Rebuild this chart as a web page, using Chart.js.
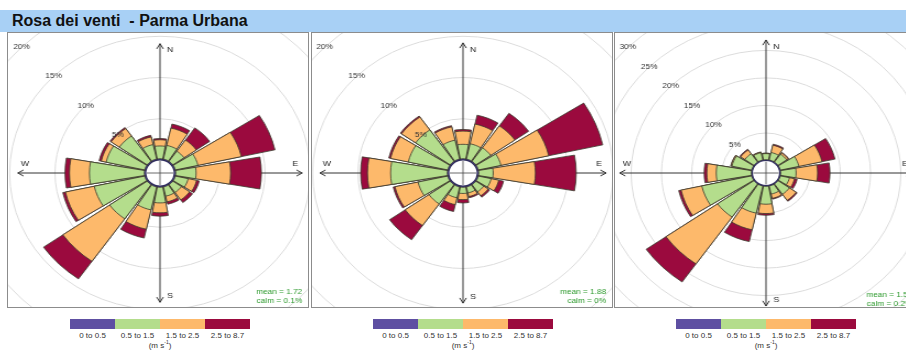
<!DOCTYPE html>
<html lang="it">
<head>
    <meta charset="UTF-8">
    <title>Rosa dei venti - Parma Urbana</title>
    <script src="https://cdn.jsdelivr.net/npm/chart.js"></script>
    <style>
        body { margin: 0; background: #fff; font-family: "Liberation Sans", Arial, sans-serif; }
        .page { position: relative; width: 906px; height: 356px; overflow: hidden; }
        .titlebar { position: absolute; left: 0; top: 10px; width: 906px; height: 22px; background: #a8d0f5; }
        .titlebar span { position: absolute; left: 12px; top: 2px; font-weight: bold; font-size: 16px; color: #111; white-space: pre; }
        .panel { position: absolute; top: 32px; width: 300px; height: 274px; border: 1px solid #8c8c8c; overflow: hidden; background: #fff; }
        .rose { position: absolute; width: 440px; height: 440px; transform: scaleX(1.1); transform-origin: 50% 50%; }
        .legend { position: absolute; top: 319px; width: 180px; }
        .keys { display: flex; height: 10px; }
        .keys div { flex: 1; }
        .klabels { display: flex; font-size: 8px; color: #333; margin-top: 2px; }
        .klabels div { flex: 1; text-align: center; white-space: nowrap; }
        .unit { text-align: center; font-size: 8px; color: #333; margin-top: 1px; }
        .unit sup { font-size: 5px; line-height: 0; }
    </style>
</head>
<body>
<div class="page">
    <!-- Header -->
    <div class="titlebar"><span>Rosa dei venti  - Parma Urbana</span></div>

    <!-- Three wind roses -->
    <div class="panel" style="left:7px"><div class="rose" style="left:-68px; top:-80px"><canvas id="rose1" width="440" height="440"></canvas></div></div>
    <div class="panel" style="left:311px"><div class="rose" style="left:-69px; top:-80px"><canvas id="rose2" width="440" height="440"></canvas></div></div>
    <div class="panel" style="left:614px"><div class="rose" style="left:-69px; top:-80px"><canvas id="rose3" width="440" height="440"></canvas></div></div>

    <!-- Speed keys -->
    <div class="legend" id="legend1" style="left:70px"></div>
    <div class="legend" id="legend2" style="left:373px"></div>
    <div class="legend" id="legend3" style="left:676px"></div>
</div>

<script>
    // directions, clockwise from north
    const directions = ['N', 'NNE', 'NE', 'ENE', 'E', 'ESE', 'SE', 'SSE', 'S', 'SSW', 'SW', 'WSW', 'W', 'WNW', 'NW', 'NNW'];
    const binLabels = ['0 to 0.5', '0.5 to 1.5', '1.5 to 2.5', '2.5 to 8.7'];
    const binColors = ['#5e4fa2', '#b4dd8c', '#fdb96b', '#9b0a3e'];

    // frequency (%) per speed bin, rose 1
    const r1Speed1 = [0.15, 0.15, 0.15, 0.15, 0.15, 0.15, 0.15, 0.15, 0.15, 0.15, 0.15, 0.15, 0.15, 0.15, 0.15, 0.15];
    const r1Speed2 = [1.55, 1.7, 1.5, 2.55, 2.25, 1.45, 1.15, 1.15, 1.9, 2.85, 5.05, 5.7, 6.05, 4.35, 3.75, 1.8];
    const r1Speed3 = [0.75, 2.15, 1.65, 4.9, 3.8, 0.95, 1.1, 0.7, 1.2, 2.4, 6.3, 3.25, 2.2, 0.55, 1.1, 0.95];
    const r1Speed4 = [0.15, 0.5, 1.8, 3.8, 3.4, 0.3, 0.4, 0.3, 0.4, 1.1, 2.6, 0.3, 0.5, 0.25, 0.15, 0.2];

    // rose 2
    const r2Speed1 = [0.15, 0.15, 0.15, 0.15, 0.15, 0.15, 0.15, 0.15, 0.15, 0.15, 0.15, 0.15, 0.15, 0.15, 0.15, 0.15];
    const r2Speed2 = [1.75, 1.9, 2.0, 2.55, 1.6, 1.45, 1.05, 0.75, 0.75, 1.35, 2.85, 3.35, 6.25, 4.45, 4.65, 2.35];
    const r2Speed3 = [1.6, 2.45, 3.25, 5.4, 4.65, 0.85, 0.6, 0.45, 0.75, 0.85, 3.2, 2.6, 2.55, 2.0, 1.9, 1.65];
    const r2Speed4 = [0.2, 1.1, 1.85, 6.1, 4.5, 0.55, 0.2, 0.15, 0.4, 0.85, 2.1, 0.2, 0.75, 0.2, 0.15, 0.15];

    // rose 3
    const r3Speed1 = [0.15, 0.15, 0.15, 0.15, 0.15, 0.15, 0.15, 0.15, 0.15, 0.15, 0.15, 0.15, 0.15, 0.15, 0.15, 0.15];
    const r3Speed2 = [1.1, 1.4, 1.75, 3.15, 2.55, 1.55, 2.3, 1.5, 3.25, 5.05, 7.35, 8.45, 5.8, 3.35, 1.85, 1.35];
    const r3Speed3 = [0.05, 1.35, 0.3, 3.9, 3.55, 0.85, 1.35, 0.8, 1.7, 3.1, 10.4, 3.5, 1.55, 0.15, 0.85, 0.1];
    const r3Speed4 = [0.05, 0.2, 0.1, 2.2, 2.05, 0.45, 0.2, 0.15, 0.3, 2.2, 4.0, 0.4, 0.45, 0.05, 0.15, 0.05];

    // ring ticks (%) and radial axis range (negative min = the hole)
    const ringsSmall = [5, 10, 15, 20];
    const ringsLarge = [5, 10, 15, 20, 25, 30];
    const rangeSmall = [-1.58, 25.1];
    const rangeLarge = [-2.27, 37.7];

    const SECTOR_DEG = 20;
    const GAP_DEG = 2.5;
    const FONT = '"Liberation Sans", Arial, sans-serif';

    function drawAxis(ctx, x1, y1, x2, y2) {
        const head = 6;
        ctx.beginPath();
        ctx.moveTo(x1, y1);
        ctx.lineTo(x2, y2);
        [[x2, y2, x1, y1], [x1, y1, x2, y2]].forEach(([tx, ty, fx, fy]) => {
            const a = Math.atan2(ty - fy, tx - fx);
            ctx.moveTo(tx - head * Math.cos(a - Math.PI / 6), ty - head * Math.sin(a - Math.PI / 6));
            ctx.lineTo(tx, ty);
            ctx.lineTo(tx - head * Math.cos(a + Math.PI / 6), ty - head * Math.sin(a + Math.PI / 6));
        });
        ctx.stroke();
    }

    // axes, compass letters, hole, ring labels and the mean / calm note
    const roseDeco = {
        id: 'roseDeco',
        beforeDatasetsDraw(chart, args, o) {
            const s = chart.scales.r, ctx = chart.ctx;
            const x = s.xCenter, y = s.yCenter;
            const R = s.getDistanceFromCenterForValue(o.maxTotal);
            ctx.save();
            ctx.strokeStyle = '#333';
            ctx.lineWidth = 1;
            drawAxis(ctx, x - R, y, x + R, y);
            drawAxis(ctx, x, y + R, x, y - R);
            ctx.fillStyle = '#222';
            ctx.font = '8px ' + FONT;
            ctx.textAlign = 'center';
            ctx.textBaseline = 'middle';
            ctx.fillText('N', x + 0.07 * R, y - 0.95 * R);
            ctx.fillText('S', x + 0.07 * R, y + 0.95 * R);
            ctx.fillText('W', x - 0.95 * R, y - 0.07 * R);
            ctx.fillText('E', x + 0.95 * R, y - 0.07 * R);
            ctx.restore();
        },
        afterDatasetsDraw(chart, args, o) {
            const s = chart.scales.r, ctx = chart.ctx;
            const x = s.xCenter, y = s.yCenter;
            const r0 = s.getDistanceFromCenterForValue(0);
            const R = s.getDistanceFromCenterForValue(o.maxTotal);
            ctx.save();
            // hole
            ctx.beginPath();
            ctx.arc(x, y, r0, 0, Math.PI * 2);
            ctx.fillStyle = '#fff';
            ctx.fill();
            ctx.strokeStyle = '#2c2a5a';
            ctx.lineWidth = 1.2;
            ctx.stroke();
            ctx.beginPath();
            ctx.strokeStyle = '#444';
            ctx.lineWidth = 0.8;
            ctx.moveTo(x - r0 + 1, y); ctx.lineTo(x + r0 - 1, y);
            ctx.moveTo(x, y - r0 + 1); ctx.lineTo(x, y + r0 - 1);
            ctx.stroke();
            // ring labels along the NW diagonal
            ctx.fillStyle = '#333';
            ctx.font = '7.5px ' + FONT;
            ctx.textAlign = 'center';
            ctx.textBaseline = 'middle';
            o.rings.forEach(v => {
                const r = s.getDistanceFromCenterForValue(v);
                ctx.fillText(v + '%', x - r * Math.SQRT1_2, y - r * Math.SQRT1_2);
            });
            // annotation
            ctx.fillStyle = '#2e9a2e';
            ctx.textAlign = 'right';
            ctx.textBaseline = 'bottom';
            ctx.fillText(o.calm, x + R, y + R + 2);
            ctx.fillText(o.mean, x + R, y + R - 7);
            ctx.restore();
        }
    };

    function buildRose(id, bins, range, rings, mean, calm) {
        const labels = directions.flatMap(d => [d, '']);
        let run = directions.map(() => 0);
        const datasets = bins.map((bin, k) => {
            run = run.map((v, i) => v + bin[i]);
            return {
                label: binLabels[k],
                data: run.flatMap(v => [v, 0]),
                backgroundColor: binColors[k],
                borderColor: '#3a382c',
                borderWidth: 0.8,
                angle: c => (c.dataIndex % 2 ? GAP_DEG : SECTOR_DEG)
            };
        });
        const maxTotal = Math.max(...run);

        new Chart(document.getElementById(id), {
            type: 'polarArea',
            data: { labels, datasets },
            plugins: [roseDeco],
            options: {
                responsive: false,
                animation: false,
                events: [],
                layout: { padding: 0 },
                plugins: {
                    legend: { display: false },
                    tooltip: { enabled: false },
                    roseDeco: { rings, maxTotal, mean, calm }
                },
                scales: {
                    r: {
                        min: range[0],
                        max: range[1],
                        startAngle: -SECTOR_DEG / 2,
                        ticks: { display: false },
                        grid: { color: '#dcdcdc', lineWidth: 1 },
                        angleLines: { display: false },
                        pointLabels: { display: false },
                        afterBuildTicks: sc => { sc.ticks = rings.map(v => ({ value: v })); }
                    }
                }
            }
        });
    }

    function buildLegend(id) {
        const el = document.getElementById(id);
        const keys = binColors.map(c => `<div style="background:${c}"></div>`).join('');
        const labs = binLabels.map(t => `<div>${t}</div>`).join('');
        el.innerHTML = `<div class="keys">${keys}</div><div class="klabels">${labs}</div><div class="unit">(m s<sup>-1</sup>)</div>`;
    }

    buildRose('rose1', [r1Speed1, r1Speed2, r1Speed3, r1Speed4], rangeSmall, ringsSmall, 'mean = 1.72', 'calm = 0.1%');
    buildRose('rose2', [r2Speed1, r2Speed2, r2Speed3, r2Speed4], rangeSmall, ringsSmall, 'mean = 1.88', 'calm = 0%');
    buildRose('rose3', [r3Speed1, r3Speed2, r3Speed3, r3Speed4], rangeLarge, ringsLarge, 'mean = 1.53', 'calm = 0.2%');

    ['legend1', 'legend2', 'legend3'].forEach(buildLegend);
</script>
</body>
</html>
